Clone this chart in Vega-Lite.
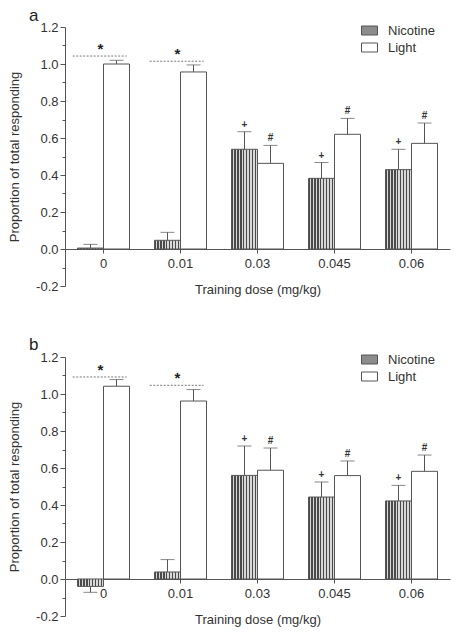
{
  "$schema": "https://vega.github.io/schema/vega-lite/v6.json",
  "padding": {"left": 8, "top": 7, "right": 5, "bottom": 2},
  "config": {
    "font": "Liberation Sans",
    "view": {"stroke": null},
    "axis": {"domainColor": "#555", "tickColor": "#555", "labelColor": "#333", "titleColor": "#333", "grid": false, "labelFontSize": 13, "titleFontSize": 13, "titleFontWeight": "normal", "labelFont": "Liberation Sans", "titleFont": "Liberation Sans", "labelOverlap": false},
    "legend": {"labelFontSize": 13, "labelColor": "#333", "labelFont": "Liberation Sans", "symbolStrokeColor": "#555", "symbolStrokeWidth": 1, "padding": 0, "rowPadding": 1, "labelOffset": 10, "symbolType": "M-1,-0.5625H1V0.5625H-1Z", "symbolSize": 256, "title": null},
    "title": {"fontSize": 17, "fontWeight": "normal", "font": "Liberation Sans", "color": "#222", "anchor": "start", "frame": "group"}
  },
  "datasets": {
    "bars": [
      {"panel": "a", "dose": "0", "group": "Nicotine", "value": 0.005, "err": 0.025, "mark": ""},
      {"panel": "a", "dose": "0", "group": "Light", "value": 1.0, "err": 1.02, "mark": ""},
      {"panel": "a", "dose": "0.01", "group": "Nicotine", "value": 0.047, "err": 0.09, "mark": ""},
      {"panel": "a", "dose": "0.01", "group": "Light", "value": 0.957, "err": 0.995, "mark": ""},
      {"panel": "a", "dose": "0.03", "group": "Nicotine", "value": 0.539, "err": 0.634, "mark": "+"},
      {"panel": "a", "dose": "0.03", "group": "Light", "value": 0.463, "err": 0.56, "mark": "#"},
      {"panel": "a", "dose": "0.045", "group": "Nicotine", "value": 0.382, "err": 0.467, "mark": "+"},
      {"panel": "a", "dose": "0.045", "group": "Light", "value": 0.62, "err": 0.706, "mark": "#"},
      {"panel": "a", "dose": "0.06", "group": "Nicotine", "value": 0.429, "err": 0.539, "mark": "+"},
      {"panel": "a", "dose": "0.06", "group": "Light", "value": 0.571, "err": 0.681, "mark": "#"},
      {"panel": "b", "dose": "0", "group": "Nicotine", "value": -0.04, "err": -0.072, "mark": ""},
      {"panel": "b", "dose": "0", "group": "Light", "value": 1.042, "err": 1.078, "mark": ""},
      {"panel": "b", "dose": "0.01", "group": "Nicotine", "value": 0.038, "err": 0.105, "mark": ""},
      {"panel": "b", "dose": "0.01", "group": "Light", "value": 0.962, "err": 1.024, "mark": ""},
      {"panel": "b", "dose": "0.03", "group": "Nicotine", "value": 0.56, "err": 0.719, "mark": "+"},
      {"panel": "b", "dose": "0.03", "group": "Light", "value": 0.588, "err": 0.708, "mark": "#"},
      {"panel": "b", "dose": "0.045", "group": "Nicotine", "value": 0.443, "err": 0.524, "mark": "+"},
      {"panel": "b", "dose": "0.045", "group": "Light", "value": 0.559, "err": 0.638, "mark": "#"},
      {"panel": "b", "dose": "0.06", "group": "Nicotine", "value": 0.422, "err": 0.506, "mark": "+"},
      {"panel": "b", "dose": "0.06", "group": "Light", "value": 0.582, "err": 0.67, "mark": "#"}
    ],
    "stars": [
      {"panel": "a", "dose": "0", "level": 1.043, "label": "*"},
      {"panel": "a", "dose": "0.01", "level": 1.015, "label": "*"},
      {"panel": "b", "dose": "0", "level": 1.092, "label": "*"},
      {"panel": "b", "dose": "0.01", "level": 1.047, "label": "*"}
    ]
  },
  "spacing": 40,
  "resolve": {"scale": {"fill": "independent", "x": "independent", "y": "independent"}, "legend": {"fill": "independent"}},
  "vconcat": [
    {
      "width": 385, "height": 259,
      "title": {"text": "a", "dx": -36, "offset": -4},
      "resolve": {"axis": {"y": "independent"}},
      "layer": [
        {
          "data": {"name": "bars"},
          "transform": [{"filter": "datum.panel === 'a'"}],
          "mark": {"type": "bar", "stroke": "#555", "strokeWidth": 1},
          "encoding": {
            "x": {"field": "dose", "type": "ordinal", "sort": ["0", "0.01", "0.03", "0.045", "0.06"], "title": "Training dose (mg/kg)", "scale": {"paddingInner": 0, "paddingOuter": 0},
              "axis": {"labelAngle": 0, "offset": -37, "tickSize": 4, "labelPadding": 4, "titlePadding": 13}},
            "xOffset": {"field": "group", "type": "nominal", "sort": ["Nicotine", "Light"], "scale": {"paddingInner": 0, "paddingOuter": 0.48}},
            "y": {"field": "value", "type": "quantitative", "title": "Proportion of total responding", "scale": {"domain": [-0.2, 1.2], "nice": false, "zero": false},
              "axis": {"orient": "left", "values": [-0.2, 0, 0.2, 0.4, 0.6, 0.8, 1.0, 1.2], "labelOverlap": false,
                "labelExpr": "(datum.value < 0 ? '-' : '') + format(abs(datum.value), '.1f')",
                "tickSize": 5, "labelPadding": 2, "titlePadding": 14}},
            "y2": {"datum": 0},
            "fill": {
              "condition": {"test": "datum.group === 'Nicotine'", "value": {"gradient": "linear", "x1": 0, "y1": 0, "x2": 1, "y2": 0, "stops": [
                {"offset": 0, "color": "#4a4a4a"}, {"offset": 0.0555, "color": "#4a4a4a"}, {"offset": 0.0556, "color": "#d8d8d8"}, {"offset": 0.111, "color": "#d8d8d8"},
                {"offset": 0.1111, "color": "#4a4a4a"}, {"offset": 0.1666, "color": "#4a4a4a"}, {"offset": 0.1667, "color": "#d8d8d8"}, {"offset": 0.2221, "color": "#d8d8d8"},
                {"offset": 0.2222, "color": "#4a4a4a"}, {"offset": 0.2777, "color": "#4a4a4a"}, {"offset": 0.2778, "color": "#d8d8d8"}, {"offset": 0.3332, "color": "#d8d8d8"},
                {"offset": 0.3333, "color": "#4a4a4a"}, {"offset": 0.3888, "color": "#4a4a4a"}, {"offset": 0.3889, "color": "#d8d8d8"}, {"offset": 0.4443, "color": "#d8d8d8"},
                {"offset": 0.4444, "color": "#4a4a4a"}, {"offset": 0.4999, "color": "#4a4a4a"}, {"offset": 0.5, "color": "#d8d8d8"}, {"offset": 0.5554, "color": "#d8d8d8"},
                {"offset": 0.5555, "color": "#4a4a4a"}, {"offset": 0.611, "color": "#4a4a4a"}, {"offset": 0.6111, "color": "#d8d8d8"}, {"offset": 0.6665, "color": "#d8d8d8"},
                {"offset": 0.6666, "color": "#4a4a4a"}, {"offset": 0.7221, "color": "#4a4a4a"}, {"offset": 0.7222, "color": "#d8d8d8"}, {"offset": 0.7776, "color": "#d8d8d8"},
                {"offset": 0.7777, "color": "#4a4a4a"}, {"offset": 0.8332, "color": "#4a4a4a"}, {"offset": 0.8333, "color": "#d8d8d8"}, {"offset": 0.8888, "color": "#d8d8d8"},
                {"offset": 0.8889, "color": "#4a4a4a"}, {"offset": 0.9443, "color": "#4a4a4a"}, {"offset": 0.9444, "color": "#d8d8d8"}, {"offset": 1, "color": "#d8d8d8"}
              ]}},
              "field": "group", "type": "nominal", "scale": {"domain": ["Nicotine", "Light"], "range": ["#8c8c8c", "white"]},
              "legend": {"orient": "none", "legendX": 296, "legendY": -5,
                "encode": {"symbols": {"update": {"stroke": {"value": "#555"}, "strokeWidth": {"value": 1}, "fill": [{"test": "datum.value === 'Nicotine'", "value": {"gradient": "linear", "x1": 0, "y1": 0, "x2": 1, "y2": 0, "stops": [
                  {"offset": 0, "color": "#4a4a4a"}, {"offset": 0.0999, "color": "#4a4a4a"}, {"offset": 0.1, "color": "#d8d8d8"}, {"offset": 0.1999, "color": "#d8d8d8"},
                  {"offset": 0.2, "color": "#4a4a4a"}, {"offset": 0.2999, "color": "#4a4a4a"}, {"offset": 0.3, "color": "#d8d8d8"}, {"offset": 0.3999, "color": "#d8d8d8"},
                  {"offset": 0.4, "color": "#4a4a4a"}, {"offset": 0.4999, "color": "#4a4a4a"}, {"offset": 0.5, "color": "#d8d8d8"}, {"offset": 0.5999, "color": "#d8d8d8"},
                  {"offset": 0.6, "color": "#4a4a4a"}, {"offset": 0.6999, "color": "#4a4a4a"}, {"offset": 0.7, "color": "#d8d8d8"}, {"offset": 0.7999, "color": "#d8d8d8"},
                  {"offset": 0.8, "color": "#4a4a4a"}, {"offset": 0.8999, "color": "#4a4a4a"}, {"offset": 0.9, "color": "#d8d8d8"}, {"offset": 1, "color": "#d8d8d8"}
                ]}}, {"value": "white"}]}}}}
            }
          }
        },
        {
          "data": {"name": "bars"},
          "transform": [{"filter": "datum.panel === 'a'"}],
          "mark": {"type": "rule", "color": "#555", "strokeWidth": 1},
          "encoding": {
            "x": {"field": "dose", "type": "ordinal", "sort": ["0", "0.01", "0.03", "0.045", "0.06"], "title": "Training dose (mg/kg)"},
            "xOffset": {"field": "group", "type": "nominal", "sort": ["Nicotine", "Light"]},
            "y": {"field": "value", "type": "quantitative", "title": null,
              "axis": {"orient": "left", "values": [-0.1, 0.1, 0.3, 0.5, 0.7, 0.9, 1.1], "labels": false, "domain": false, "tickSize": 3, "title": null}},
            "y2": {"field": "err"}
          }
        },
        {
          "data": {"name": "bars"},
          "transform": [{"filter": "datum.panel === 'a'"}],
          "mark": {"type": "tick", "color": "#555", "size": 14, "thickness": 1},
          "encoding": {
            "x": {"field": "dose", "type": "ordinal", "sort": ["0", "0.01", "0.03", "0.045", "0.06"], "title": "Training dose (mg/kg)"},
            "xOffset": {"field": "group", "type": "nominal", "sort": ["Nicotine", "Light"]},
            "y": {"field": "err", "type": "quantitative", "axis": null}
          }
        },
        {
          "data": {"name": "bars"},
          "transform": [{"filter": "datum.panel === 'a'"}],
          "mark": {"type": "text", "dy": -7, "baseline": "middle", "fontSize": 10, "fontWeight": "bold", "color": "#333"},
          "encoding": {
            "x": {"field": "dose", "type": "ordinal", "sort": ["0", "0.01", "0.03", "0.045", "0.06"], "title": "Training dose (mg/kg)"},
            "xOffset": {"field": "group", "type": "nominal", "sort": ["Nicotine", "Light"]},
            "y": {"field": "err", "type": "quantitative", "axis": null},
            "text": {"field": "mark"}
          }
        },
        {
          "data": {"name": "stars"},
          "transform": [{"filter": "datum.panel === 'a'"}],
          "mark": {"type": "rule", "color": "#777", "strokeWidth": 1, "strokeDash": [2, 1.5]},
          "encoding": {
            "x": {"field": "dose", "type": "ordinal", "sort": ["0", "0.01", "0.03", "0.045", "0.06"], "bandPosition": 0.1, "title": "Training dose (mg/kg)"},
            "x2": {"field": "dose", "bandPosition": 0.8},
            "y": {"field": "level", "type": "quantitative", "axis": null}
          }
        },
        {
          "data": {"name": "stars"},
          "transform": [{"filter": "datum.panel === 'a'"}],
          "mark": {"type": "text", "dy": -2, "dx": -3, "baseline": "alphabetic", "fontSize": 15, "fontWeight": "bold", "color": "#222"},
          "encoding": {
            "x": {"field": "dose", "type": "ordinal", "sort": ["0", "0.01", "0.03", "0.045", "0.06"], "title": "Training dose (mg/kg)"},
            "y": {"field": "level", "type": "quantitative", "axis": null},
            "text": {"field": "label"}
          }
        }
      ]
    },
    {
      "width": 385, "height": 259,
      "title": {"text": "b", "dx": -36, "offset": -3},
      "resolve": {"axis": {"y": "independent"}},
      "layer": [
        {
          "data": {"name": "bars"},
          "transform": [{"filter": "datum.panel === 'b'"}],
          "mark": {"type": "bar", "stroke": "#555", "strokeWidth": 1},
          "encoding": {
            "x": {"field": "dose", "type": "ordinal", "sort": ["0", "0.01", "0.03", "0.045", "0.06"], "title": "Training dose (mg/kg)", "scale": {"paddingInner": 0, "paddingOuter": 0},
              "axis": {"labelAngle": 0, "offset": -37, "tickSize": 4, "labelPadding": 4, "titlePadding": 13}},
            "xOffset": {"field": "group", "type": "nominal", "sort": ["Nicotine", "Light"], "scale": {"paddingInner": 0, "paddingOuter": 0.48}},
            "y": {"field": "value", "type": "quantitative", "title": "Proportion of total responding", "scale": {"domain": [-0.2, 1.2], "nice": false, "zero": false},
              "axis": {"orient": "left", "values": [-0.2, 0, 0.2, 0.4, 0.6, 0.8, 1.0, 1.2], "labelOverlap": false,
                "labelExpr": "(datum.value < 0 ? '-' : '') + format(abs(datum.value), '.1f')",
                "tickSize": 5, "labelPadding": 2, "titlePadding": 14}},
            "y2": {"datum": 0},
            "fill": {
              "condition": {"test": "datum.group === 'Nicotine'", "value": {"gradient": "linear", "x1": 0, "y1": 0, "x2": 1, "y2": 0, "stops": [
                {"offset": 0, "color": "#4a4a4a"}, {"offset": 0.0555, "color": "#4a4a4a"}, {"offset": 0.0556, "color": "#d8d8d8"}, {"offset": 0.111, "color": "#d8d8d8"},
                {"offset": 0.1111, "color": "#4a4a4a"}, {"offset": 0.1666, "color": "#4a4a4a"}, {"offset": 0.1667, "color": "#d8d8d8"}, {"offset": 0.2221, "color": "#d8d8d8"},
                {"offset": 0.2222, "color": "#4a4a4a"}, {"offset": 0.2777, "color": "#4a4a4a"}, {"offset": 0.2778, "color": "#d8d8d8"}, {"offset": 0.3332, "color": "#d8d8d8"},
                {"offset": 0.3333, "color": "#4a4a4a"}, {"offset": 0.3888, "color": "#4a4a4a"}, {"offset": 0.3889, "color": "#d8d8d8"}, {"offset": 0.4443, "color": "#d8d8d8"},
                {"offset": 0.4444, "color": "#4a4a4a"}, {"offset": 0.4999, "color": "#4a4a4a"}, {"offset": 0.5, "color": "#d8d8d8"}, {"offset": 0.5554, "color": "#d8d8d8"},
                {"offset": 0.5555, "color": "#4a4a4a"}, {"offset": 0.611, "color": "#4a4a4a"}, {"offset": 0.6111, "color": "#d8d8d8"}, {"offset": 0.6665, "color": "#d8d8d8"},
                {"offset": 0.6666, "color": "#4a4a4a"}, {"offset": 0.7221, "color": "#4a4a4a"}, {"offset": 0.7222, "color": "#d8d8d8"}, {"offset": 0.7776, "color": "#d8d8d8"},
                {"offset": 0.7777, "color": "#4a4a4a"}, {"offset": 0.8332, "color": "#4a4a4a"}, {"offset": 0.8333, "color": "#d8d8d8"}, {"offset": 0.8888, "color": "#d8d8d8"},
                {"offset": 0.8889, "color": "#4a4a4a"}, {"offset": 0.9443, "color": "#4a4a4a"}, {"offset": 0.9444, "color": "#d8d8d8"}, {"offset": 1, "color": "#d8d8d8"}
              ]}},
              "field": "group", "type": "nominal", "scale": {"domain": ["Nicotine", "Light"], "range": ["#8c8c8c", "white"]},
              "legend": {"orient": "none", "legendX": 296, "legendY": -6,
                "encode": {"symbols": {"update": {"stroke": {"value": "#555"}, "strokeWidth": {"value": 1}, "fill": [{"test": "datum.value === 'Nicotine'", "value": {"gradient": "linear", "x1": 0, "y1": 0, "x2": 1, "y2": 0, "stops": [
                  {"offset": 0, "color": "#4a4a4a"}, {"offset": 0.0999, "color": "#4a4a4a"}, {"offset": 0.1, "color": "#d8d8d8"}, {"offset": 0.1999, "color": "#d8d8d8"},
                  {"offset": 0.2, "color": "#4a4a4a"}, {"offset": 0.2999, "color": "#4a4a4a"}, {"offset": 0.3, "color": "#d8d8d8"}, {"offset": 0.3999, "color": "#d8d8d8"},
                  {"offset": 0.4, "color": "#4a4a4a"}, {"offset": 0.4999, "color": "#4a4a4a"}, {"offset": 0.5, "color": "#d8d8d8"}, {"offset": 0.5999, "color": "#d8d8d8"},
                  {"offset": 0.6, "color": "#4a4a4a"}, {"offset": 0.6999, "color": "#4a4a4a"}, {"offset": 0.7, "color": "#d8d8d8"}, {"offset": 0.7999, "color": "#d8d8d8"},
                  {"offset": 0.8, "color": "#4a4a4a"}, {"offset": 0.8999, "color": "#4a4a4a"}, {"offset": 0.9, "color": "#d8d8d8"}, {"offset": 1, "color": "#d8d8d8"}
                ]}}, {"value": "white"}]}}}}
            }
          }
        },
        {
          "data": {"name": "bars"},
          "transform": [{"filter": "datum.panel === 'b'"}],
          "mark": {"type": "rule", "color": "#555", "strokeWidth": 1},
          "encoding": {
            "x": {"field": "dose", "type": "ordinal", "sort": ["0", "0.01", "0.03", "0.045", "0.06"], "title": "Training dose (mg/kg)"},
            "xOffset": {"field": "group", "type": "nominal", "sort": ["Nicotine", "Light"]},
            "y": {"field": "value", "type": "quantitative", "title": null,
              "axis": {"orient": "left", "values": [-0.1, 0.1, 0.3, 0.5, 0.7, 0.9, 1.1], "labels": false, "domain": false, "tickSize": 3, "title": null}},
            "y2": {"field": "err"}
          }
        },
        {
          "data": {"name": "bars"},
          "transform": [{"filter": "datum.panel === 'b'"}],
          "mark": {"type": "tick", "color": "#555", "size": 14, "thickness": 1},
          "encoding": {
            "x": {"field": "dose", "type": "ordinal", "sort": ["0", "0.01", "0.03", "0.045", "0.06"], "title": "Training dose (mg/kg)"},
            "xOffset": {"field": "group", "type": "nominal", "sort": ["Nicotine", "Light"]},
            "y": {"field": "err", "type": "quantitative", "axis": null}
          }
        },
        {
          "data": {"name": "bars"},
          "transform": [{"filter": "datum.panel === 'b'"}],
          "mark": {"type": "text", "dy": -7, "baseline": "middle", "fontSize": 10, "fontWeight": "bold", "color": "#333"},
          "encoding": {
            "x": {"field": "dose", "type": "ordinal", "sort": ["0", "0.01", "0.03", "0.045", "0.06"], "title": "Training dose (mg/kg)"},
            "xOffset": {"field": "group", "type": "nominal", "sort": ["Nicotine", "Light"]},
            "y": {"field": "err", "type": "quantitative", "axis": null},
            "text": {"field": "mark"}
          }
        },
        {
          "data": {"name": "stars"},
          "transform": [{"filter": "datum.panel === 'b'"}],
          "mark": {"type": "rule", "color": "#777", "strokeWidth": 1, "strokeDash": [2, 1.5]},
          "encoding": {
            "x": {"field": "dose", "type": "ordinal", "sort": ["0", "0.01", "0.03", "0.045", "0.06"], "bandPosition": 0.1, "title": "Training dose (mg/kg)"},
            "x2": {"field": "dose", "bandPosition": 0.8},
            "y": {"field": "level", "type": "quantitative", "axis": null}
          }
        },
        {
          "data": {"name": "stars"},
          "transform": [{"filter": "datum.panel === 'b'"}],
          "mark": {"type": "text", "dy": -2, "dx": -3, "baseline": "alphabetic", "fontSize": 15, "fontWeight": "bold", "color": "#222"},
          "encoding": {
            "x": {"field": "dose", "type": "ordinal", "sort": ["0", "0.01", "0.03", "0.045", "0.06"], "title": "Training dose (mg/kg)"},
            "y": {"field": "level", "type": "quantitative", "axis": null},
            "text": {"field": "label"}
          }
        }
      ]
    }
  ]
}
